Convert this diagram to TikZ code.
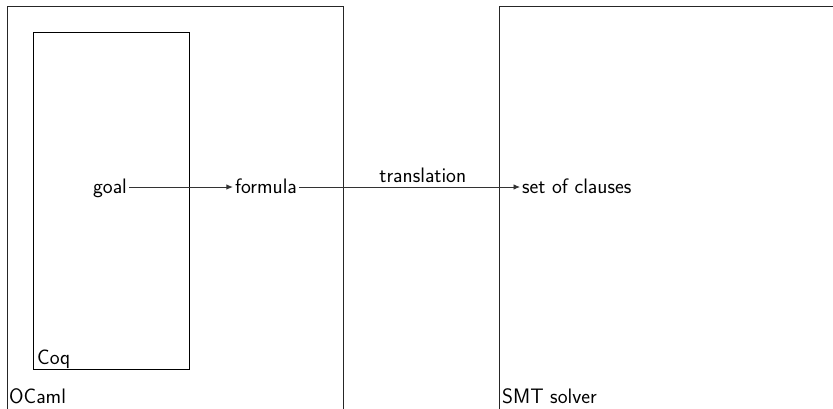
\documentclass[tikz,border=0pt]{standalone}
\usetikzlibrary{arrows.meta}
\begin{document}
\begin{tikzpicture}[x=1bp,y=-1bp,
  lbl/.style={font=\sffamily\fontsize{21}{24}\selectfont, inner sep=2bp},
  box/.style={draw=black!85, line width=1bp},
  conn/.style={draw=black!80, line width=0.9bp, -{Latex[length=6.5bp,width=5.5bp]}}]
\useasboundingbox (0,0) rectangle (833,408);
\draw[box] (7,6) rectangle (343,410);
\draw[box] (499,6) rectangle (840,410);
\draw[box, draw=black] (33,32) rectangle (189,369);
\node[lbl, anchor=base west, inner sep=0pt] (ocaml) at (9,403) {OCaml};
\node[lbl, anchor=base west, inner sep=0pt] (coq) at (37,364) {Coq};
\node[lbl, anchor=base west, inner sep=0pt] (smt) at (502,403) {SMT solver};
\node[lbl, anchor=base] (goal) at (110,193) {goal};
\node[lbl, anchor=base] (formula) at (266,193) {formula};
\node[lbl, anchor=base west] (clauses) at (520,193) {set of clauses};
\draw[conn] (goal.east |- 0,187) -- (formula.west |- 0,187);
\draw[conn] (formula.east |- 0,187) -- node[lbl, above, pos=0.56, yshift=1.5bp] (tr) {translation} (clauses.west |- 0,187);
\end{tikzpicture}
\end{document}
